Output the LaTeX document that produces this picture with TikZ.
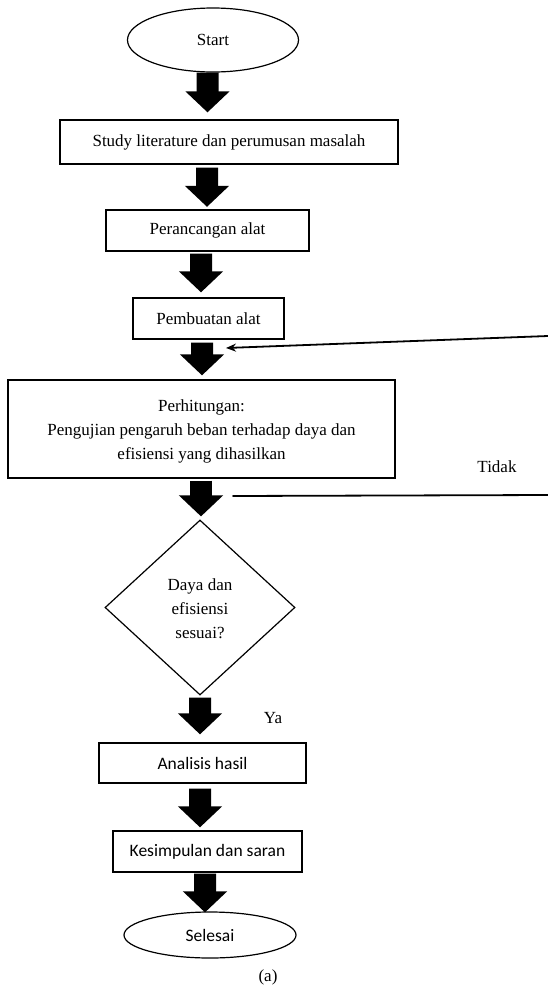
\documentclass[tikz,border=0pt]{standalone}
\usepackage{fontspec}
\setmainfont{Liberation Serif}
\newfontfamily\calfont{Carlito}
\usetikzlibrary{shapes.geometric,arrows.meta}
\begin{document}
\begin{tikzpicture}[x=1bp,y=-1bp,
  txt/.style={font=\fontsize{17bp}{24bp}\selectfont, align=center, inner sep=0},
  sanstxt/.style={font=\calfont\fontsize{17.5bp}{24bp}\selectfont, align=center, inner sep=0},
  boxnode/.style={draw, line width=1.3bp, rectangle, inner sep=0},
  ellnode/.style={draw, line width=1.2bp, ellipse, inner sep=0},
  decnode/.style={draw, line width=1.2bp, diamond, inner sep=0},
  blk/.style={line width=22bp, -{Triangle[width=43bp,length=21bp]}},
  fb/.style={line width=1.8bp, line cap=round},
  fbarrow/.style={line width=1.8bp, -{Stealth[length=10bp,width=8bp]}}
]
\useasboundingbox (0,0) rectangle (548,989);
\fill[white] (0,0) rectangle (548,989);

\node[ellnode, txt, minimum width=171bp, minimum height=64bp] (start) at (213,40) {Start};
\node[boxnode, txt, minimum width=338bp, minimum height=44bp] (b1) at (229,142) {Study literature dan perumusan masalah};
\node[boxnode, txt, minimum width=203bp, minimum height=41bp] (b2) at (207.5,230.5) {Perancangan alat};
\node[boxnode, txt, minimum width=151bp, minimum height=41bp] (b3) at (208.5,318.5) {Pembuatan alat};
\node[boxnode, minimum width=387bp, minimum height=98bp] (b4) at (201.5,429) {};
\node[txt] (b4t) at (201.5,431) {Perhitungan:\\Pengujian pengaruh beban terhadap daya dan\\efisiensi yang dihasilkan};
\node[decnode, minimum width=190bp, minimum height=175bp] (dec) at (200,607.5) {};
\node[txt] (dect) at (200,609) {Daya dan\\efisiensi\\sesuai?};
\node[boxnode, sanstxt, minimum width=207bp, minimum height=40bp] (ana) at (202.5,763) {Analisis hasil};
\node[boxnode, sanstxt, minimum width=189bp, minimum height=41bp] (kes) at (207.5,851.5) {Kesimpulan dan saran};
\node[ellnode, sanstxt, minimum width=172bp, minimum height=46bp] (sel) at (210,935) {Selesai};

\node[txt] (tidak) at (497,467) {Tidak};
\node[txt] (ya) at (273,718) {Ya};
\node[txt] (cap) at (268,977) {(a)};

% block arrows
\draw[blk] ([xshift=-5.5bp]start.south) -- ([xshift=-21.5bp,yshift=7bp]b1.north);
\draw[blk] ([xshift=-22bp,yshift=-3bp]b1.south) -- ([xshift=-0.5bp,yshift=2.5bp]b2.north);
\draw[blk] ([xshift=-6.5bp,yshift=-2bp]b2.south) -- ([xshift=-7.5bp,yshift=5bp]b3.north);
\draw[blk] ([xshift=-6.5bp,yshift=-3bp]b3.south) -- ([xshift=0.5bp,yshift=4bp]b4.north);
\draw[blk] ([xshift=-0.5bp,yshift=-2bp]b4.south) -- ([xshift=1bp,yshift=3bp]dec.north);
\draw[blk] ([yshift=-2bp]dec.south) -- ([xshift=-2.5bp,yshift=8bp]ana.north);
\draw[blk] ([xshift=-2.5bp,yshift=-5bp]ana.south) -- ([xshift=-7.5bp,yshift=3bp]kes.north);
\draw[blk] ([xshift=-2.5bp,yshift=-1bp]kes.south) -- ([xshift=-5bp,yshift=-1bp]sel.north);

% feedback lines
\coordinate (lowL) at (233,496);
\coordinate (lowR) at (548,495);
\coordinate (upR) at (548,336);
\coordinate (upTip) at (226,348);
\draw[fb] (lowL) -- (lowR);
\draw[fbarrow] (upR) -- (upTip);
\end{tikzpicture}
\end{document}
